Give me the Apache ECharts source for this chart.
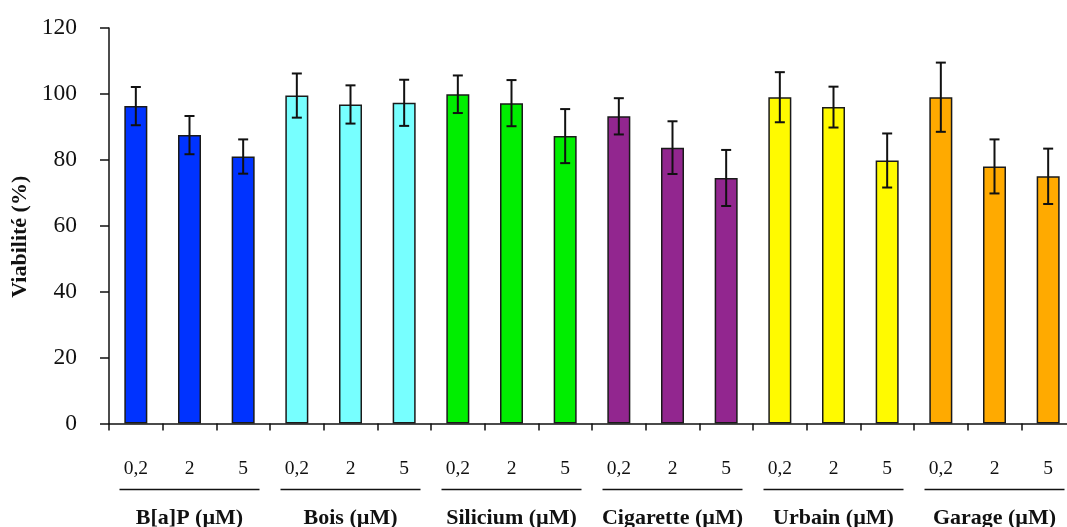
<!DOCTYPE html>
<html>
<head>
<meta charset="utf-8">
<script src="https://cdn.jsdelivr.net/npm/echarts@6/dist/echarts.min.js"></script>
<style>
html,body{margin:0;padding:0;background:#fff;}
#chart{width:1067px;height:527px;}
</style>
</head>
<body>
<div id="chart"></div>
<script>
// ---- data ----
var groups = ['B[a]P (µM)', 'Bois (µM)', 'Silicium (µM)', 'Cigarette (µM)', 'Urbain (µM)', 'Garage (µM)'];
var doses = ['0,2', '2', '5'];
var groupColors = ['#0033ff', '#77ffff', '#00ee00', '#92268f', '#fffa00', '#ffaa00'];
var means = [96.3, 87.5, 81.0, 99.5, 96.8, 97.3, 99.9, 97.2, 87.2, 93.2, 83.7, 74.5, 99.0, 96.0, 79.8, 99.0, 78.0, 75.0];
var errors = [5.8, 5.8, 5.2, 6.7, 5.8, 7.0, 5.7, 7.0, 8.2, 5.5, 8.0, 8.5, 7.6, 6.2, 8.2, 10.5, 8.2, 8.4];
var yTicks = [0, 20, 40, 60, 80, 100, 120];

// ---- build ----
var categories = [];
var barData = [];
var errData = [];
var groupData = [];
groups.forEach(function (g, gi) {
  groupData.push([gi * doses.length, gi * doses.length + doses.length - 1, gi]);
  doses.forEach(function (d, di) {
    var i = gi * doses.length + di;
    categories.push(d);
    barData.push({ value: means[i], itemStyle: { color: groupColors[gi] } });
    errData.push([i, means[i] - errors[i], means[i] + errors[i]]);
  });
});

var FONT = '"Liberation Serif", "Times New Roman", serif';
var chart = echarts.init(document.getElementById('chart'), null, { renderer: 'canvas' });
chart.setOption({
  animation: false,
  backgroundColor: '#fff',
  grid: { left: 109, top: 28, right: -8, bottom: 103.5, containLabel: false, outerBoundsMode: 'none' },
  xAxis: {
    type: 'category',
    data: categories,
    axisLine: { lineStyle: { color: '#111', width: 1.5 } },
    axisTick: { show: true, length: 7, alignWithLabel: false, interval: 0, lineStyle: { color: '#111', width: 1.5 } },
    axisLabel: { interval: 0, margin: 35, fontFamily: FONT, fontSize: 19.5, color: '#111' }
  },
  yAxis: {
    type: 'value',
    min: yTicks[0],
    max: yTicks[yTicks.length - 1],
    interval: yTicks[1] - yTicks[0],
    name: 'Viabilité (%)',
    nameLocation: 'middle',
    nameGap: 71,
    nameRotate: 90,
    nameTextStyle: { fontFamily: FONT, fontSize: 22, fontWeight: 'bold', color: '#111', padding: [0, 22, 0, 0] },
    splitLine: { show: false },
    axisLine: { show: true, lineStyle: { color: '#111', width: 1.5 } },
    axisTick: { show: true, length: 9, lineStyle: { color: '#111', width: 1.5 } },
    axisLabel: { margin: 32, fontFamily: FONT, fontSize: 23.5, color: '#111' }
  },
  series: [
    {
      type: 'bar',
      data: barData,
      barWidth: 23,
      itemStyle: { borderColor: '#1a1a1a', borderWidth: 1.5 }
    },
    {
      type: 'custom',
      data: errData,
      z: 5,
      renderItem: function (params, api) {
        var x = api.value(0);
        var lo = api.coord([x, api.value(1)]);
        var hi = api.coord([x, api.value(2)]);
        var hw = 5;
        var st = { stroke: '#111', lineWidth: 2 };
        return {
          type: 'group',
          children: [
            { type: 'line', shape: { x1: lo[0], y1: lo[1], x2: hi[0], y2: hi[1] }, style: st },
            { type: 'line', shape: { x1: lo[0] - hw, y1: lo[1], x2: lo[0] + hw, y2: lo[1] }, style: st },
            { type: 'line', shape: { x1: hi[0] - hw, y1: hi[1], x2: hi[0] + hw, y2: hi[1] }, style: st }
          ]
        };
      }
    },
    {
      type: 'custom',
      data: groupData,
      clip: false,
      silent: true,
      renderItem: function (params, api) {
        var a = api.coord([api.value(0), 0]);
        var b = api.coord([api.value(1), 0]);
        var cx = (a[0] + b[0]) / 2;
        var half = 70;
        var ly = a[1] + 66;
        return {
          type: 'group',
          children: [
            { type: 'line', shape: { x1: cx - half, y1: ly, x2: cx + half, y2: ly }, style: { stroke: '#111', lineWidth: 1.5 } },
            { type: 'text', x: cx, y: a[1] + 95, style: {
                text: groups[api.value(2)], fontFamily: FONT, fontSize: 22, fontWeight: 'bold',
                fill: '#111', align: 'center', verticalAlign: 'middle' } }
          ]
        };
      }
    }
  ]
});
</script>
</body>
</html>
